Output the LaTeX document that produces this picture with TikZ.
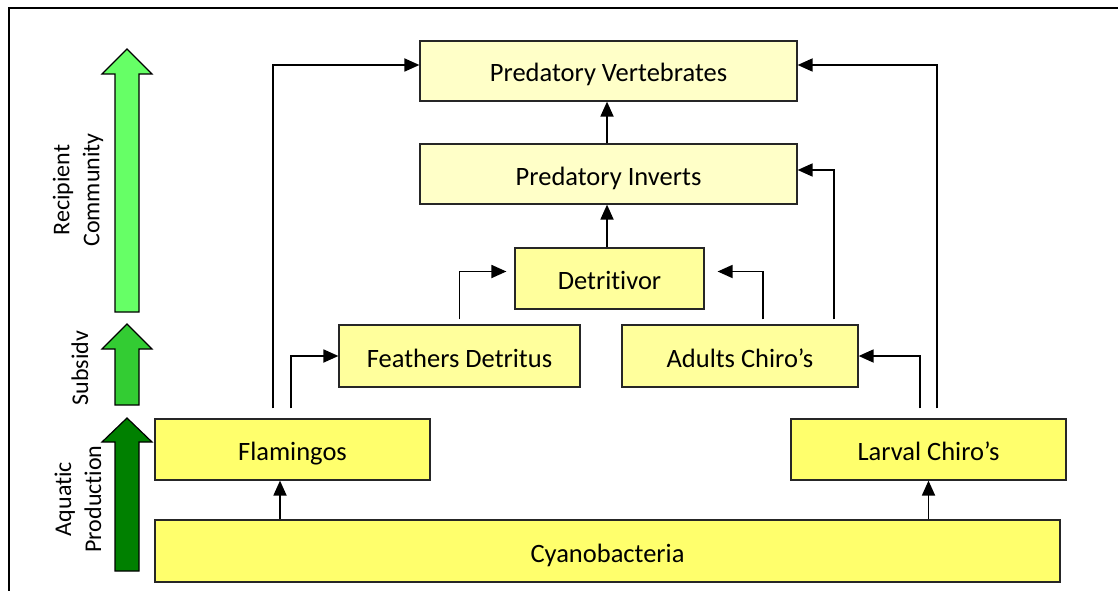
\documentclass[tikz,border=0pt]{standalone}
\usepackage{fontspec}
\setmainfont{Carlito}[Ligatures=NoCommon]
\usetikzlibrary{arrows.meta}
\definecolor{paleY}{HTML}{FFFFC8}
\definecolor{midY}{HTML}{FFFF9C}
\definecolor{brightY}{HTML}{FFFF6C}
\definecolor{gLight}{HTML}{66FF66}
\definecolor{gMid}{HTML}{33CC33}
\definecolor{gDark}{HTML}{008000}
\tikzset{
  box/.style={draw=black!85, line width=1.2pt, rectangle, inner sep=0pt,
    text height=24pt, text depth=2pt,
    font=\fontsize{26.5}{30}\selectfont},
  link/.style={draw=black, line width=1.8pt, -{Triangle[length=15pt,width=13pt]}},
  blockarrow/.style={draw=black, line width=1.2pt, line join=miter},
  sidelabel/.style={rotate=90, align=center, font=\fontsize{24}{30}\selectfont}
}
\begin{document}
\begin{tikzpicture}[x=1pt,y=-1pt]
\useasboundingbox (0,0) rectangle (1118,591);
\clip (0,0) rectangle (1118,591);
\draw[line width=1.5pt] (9,640) -- (9,8) -- (1140,8);

% boxes
\node[box, fill=paleY, minimum width=377pt, minimum height=60pt] (PV) at (608.5,71) {Predatory Vertebrates};
\node[box, fill=paleY, minimum width=377pt, minimum height=60pt] (PI) at (608.5,174) {Predatory Inverts};
\node[box, fill=midY, minimum width=189pt, minimum height=61pt] (DT) at (609.5,278.5) {Detritivor};
\node[box, fill=midY, minimum width=241pt, minimum height=62pt] (FD) at (459.5,356) {Feathers Detritus};
\node[box, fill=midY, minimum width=236pt, minimum height=62pt] (AC) at (740,356) {Adults Chiro’s};
\node[box, fill=brightY, minimum width=275pt, minimum height=61pt] (FL) at (292.5,449.5) {Flamingos};
\node[box, fill=brightY, minimum width=275pt, minimum height=61pt] (LC) at (928.5,449.5) {Larval Chiro’s};
\node[box, fill=brightY, minimum width=905pt, minimum height=62pt] (CY) at (607.5,551) {Cyanobacteria};

% helper coordinates
\coordinate (ca) at ([xshift=-12.5pt]FL.south);
\coordinate (fa) at ([shift={(-19.5pt,10pt)}]FL.north);
\coordinate (fb) at ([shift={(-1.5pt,10pt)}]FL.north);
\coordinate (la) at ([shift={(-8.5pt,10pt)}]LC.north);
\coordinate (lb) at ([shift={(8.5pt,10pt)}]LC.north);
\coordinate (da) at ([yshift=5pt]FD.north);
\coordinate (aa) at ([shift={(23pt,5pt)}]AC.north);
\coordinate (ab) at ([shift={(94pt,5pt)}]AC.north);

% connectors
\draw[link] (ca |- CY.north) -- (ca);
\draw[link] (LC.south |- CY.north) -- (LC.south);
\draw[link] (fa) |- ([yshift=6pt]PV.west);
\draw[link] (fb) |- (FD.west);
\draw[link] (lb) |- ([yshift=6pt]PV.east);
\draw[link] (la) |- (AC.east);
\draw[link] (da) |- ([shift={(-8pt,7pt)}]DT.west);
\draw[link] (aa) |- ([shift={(13pt,7pt)}]DT.east);
\draw[link] (ab) |- ([yshift=4pt]PI.east);
\draw[link] ([xshift=-2.5pt]DT.north) -- ([xshift=-1.5pt]PI.south);
\draw[link] ([xshift=-1.5pt]PI.north) -- ([xshift=-1.5pt]PV.south);

% side block arrows
\draw[blockarrow, fill=gLight] (127,49) -- (152,74) -- (139,74) -- (139,312) -- (115,312) -- (115,74) -- (102,74) -- cycle;
\draw[blockarrow, fill=gMid] (127,324) -- (152,349) -- (139,349) -- (139,405) -- (115,405) -- (115,349) -- (102,349) -- cycle;
\draw[blockarrow, fill=gDark] (127,418) -- (152,442) -- (139,442) -- (139,571) -- (115,571) -- (115,442) -- (102,442) -- cycle;

% side labels
\node[sidelabel] (lr) at (78,190) {Recipient\\Community};
\node[sidelabel] (ls) at (80,368) {Subsidv};
\node[sidelabel] (la2) at (78,499) {Aquatic\\Production};
\end{tikzpicture}
\end{document}
